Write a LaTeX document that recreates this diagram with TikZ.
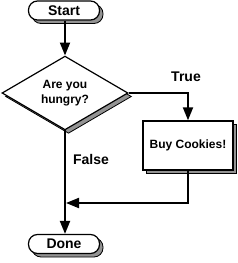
\documentclass[tikz,border=0pt]{standalone}
\usepackage{fontspec}
\setmainfont{Liberation Sans}
\usetikzlibrary{shapes.geometric,arrows.meta,shadows}
\begin{document}
\begin{tikzpicture}[x=1pt,y=-1pt,
  shade/.style={drop shadow={shadow xshift=3.5pt,shadow yshift=-3.5pt,fill=gray!85,draw=black,line width=0.8pt,opacity=1}},
  pill/.style={draw=black,line width=1.2pt,fill=white,rounded corners=9pt,minimum width=71pt,minimum height=19pt,inner sep=0pt,font=\fontsize{14}{16}\selectfont\bfseries,shade},
  decision/.style={draw=black,line width=1.2pt,fill=white,diamond,minimum width=126pt,minimum height=72pt,inner sep=0pt,align=center,font=\fontsize{12}{15}\selectfont\bfseries,shade},
  stepbox/.style={draw=black,line width=1.4pt,fill=white,minimum width=90pt,minimum height=49pt,inner sep=0pt,font=\fontsize{12}{14}\selectfont\bfseries,shade},
  lbl/.style={font=\fontsize{14}{16}\selectfont\bfseries,inner sep=0pt},
  conn/.style={line width=2pt,-{Triangle[length=13pt,width=10pt]}}]
\useasboundingbox (0,0) rectangle (238,263);
\node[pill] (start) at (64,10.5) {Start};
\node[decision] (q) at (65,93) {Are you\\hungry?};
\node[stepbox] (buy) at (188,145.5) {Buy Cookies!};
\node[pill] (done) at (64,244) {Done};
\coordinate (j) at (66,203);
\node[lbl] (t) at (186,77) {True};
\node[lbl] (f) at (91,159) {False};
\draw[conn] (start.south -| q.north) -- (q.north);
\draw[conn] (q.east) -| (buy.north);
\draw[conn] (buy.south) |- (j);
\draw[conn] (q.south) -- (done.north -| q.south);
\end{tikzpicture}
\end{document}
